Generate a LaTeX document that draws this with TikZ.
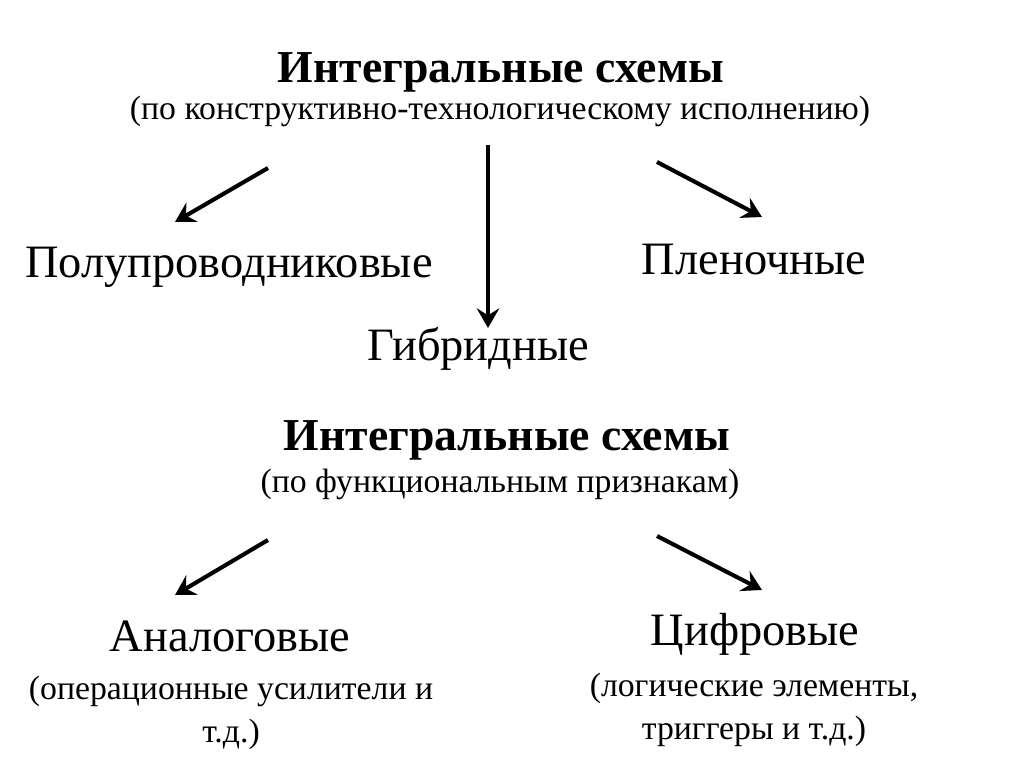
\documentclass[tikz,border=0pt]{standalone}
\usepackage{fontspec}
\setmainfont{Liberation Serif}
\usetikzlibrary{arrows.meta}
\tikzset{
  head/.style={font=\fontsize{32.5}{38}\selectfont\bfseries,align=center,inner sep=0pt},
  kind/.style={font=\fontsize{33}{38}\selectfont,inner sep=0pt},
  note/.style={font=\fontsize{24}{31}\selectfont,align=center,inner sep=0pt},
  arr/.style={line width=2.9pt,-{Stealth[length=14pt,width=16pt,inset=5pt]}}
}
\begin{document}
\begin{tikzpicture}[x=0.025cm,y=-0.025cm]
\useasboundingbox[fill=white](0,0)rectangle(1024,767);
% by construction and technology
\node[head](ic1)at(501,72){Интегральные схемы};
\node[note](by1)at(500,111){(по конструктивно-технологическому исполнению)};
\node[kind](semi)at(229,267){Полупроводниковые};
\node[kind](film)at(754,260){Пленочные};
\node[kind](hyb)at(478,349){Гибридные};
\coordinate(a1)at(268,168);\coordinate(a2)at(488,145);\coordinate(a3)at(657,162);
\coordinate(t1)at(175,222);\coordinate(t2)at(488,328);\coordinate(t3)at(762,217);
\foreach\s/\t in{a1/t1,a2/t2,a3/t3}{\draw[arr](\s)--(\t);}
% by function
\node[head](ic2)at(507,440){Интегральные схемы};
\node[note](by2)at(500,484){(по функциональным признакам)};
\node[kind](ana)at(230,636){Аналоговые};
\node[kind](dig)at(755,634){Цифровые};
\node[note](anan)at(231,713){(операционные усилители и\\т.д.)};
\node[note](dign)at(754,710){(логические элементы,\\триггеры и т.д.)};
\coordinate(b1)at(268,540);\coordinate(b2)at(657,536);
\coordinate(u1)at(175,595);\coordinate(u2)at(762,590);
\foreach\s/\t in{b1/u1,b2/u2}{\draw[arr](\s)--(\t);}
\end{tikzpicture}
\end{document}
